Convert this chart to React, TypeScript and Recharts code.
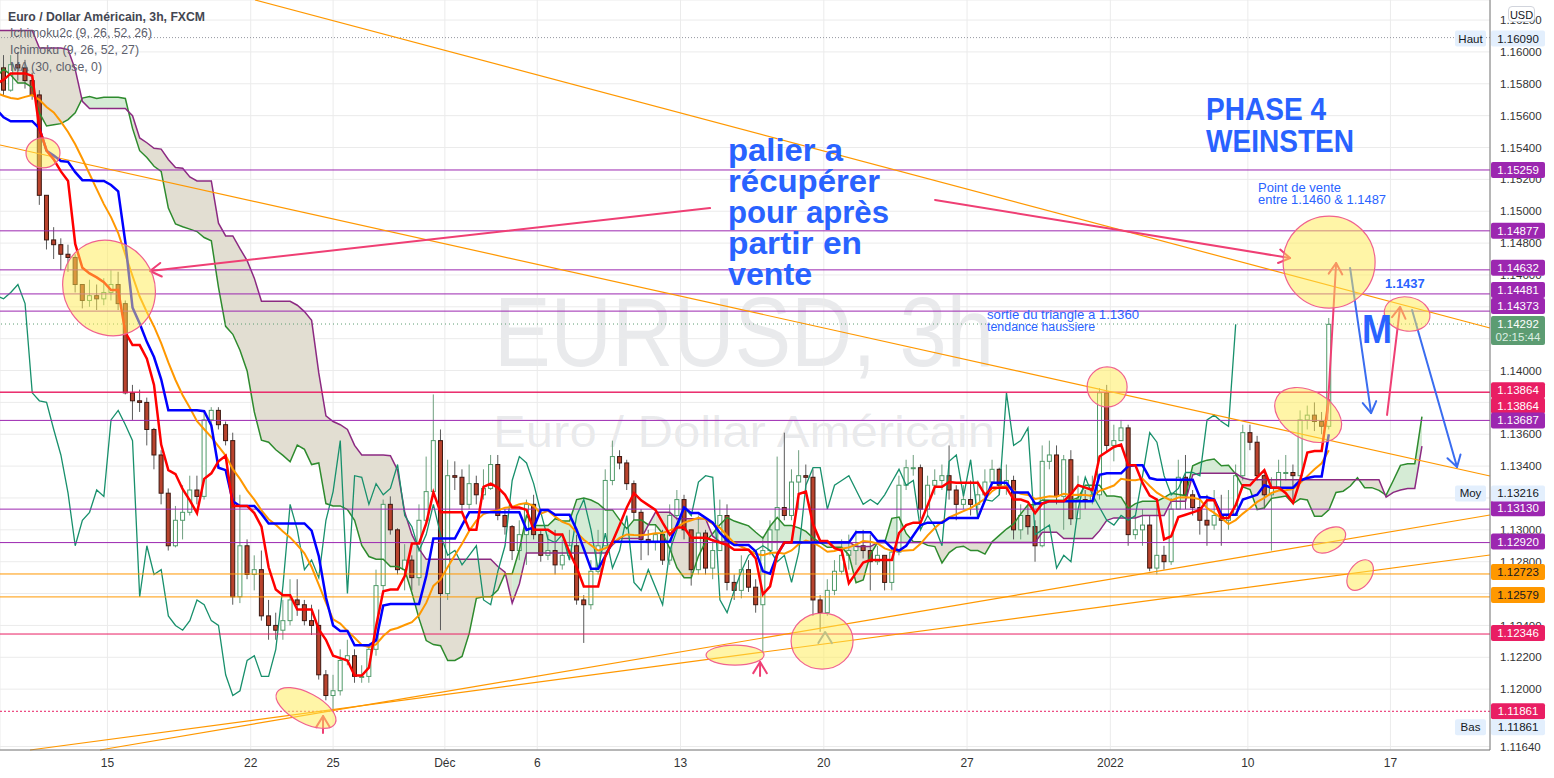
import React from 'react'
import {
  ComposedChart,
  XAxis,
  YAxis,
  CartesianGrid,
  Bar,
  Line,
  Area,
  ReferenceLine,
  ReferenceDot,
} from 'recharts'

// EUR/USD read at 6h per bar. Bar 1 = 9 Nov 06:00. The "early" bars sit left of the
// visible window and only feed the ichimoku / MA warm-up.
const earlyCloses = [
  1.16, 1.1602, 1.1598, 1.1605, 1.1603, 1.1612, 1.163, 1.168, 1.1685, 1.166,
  1.1622, 1.1572, 1.156, 1.1578, 1.1592, 1.1605, 1.1608, 1.1592, 1.1585, 1.158,
  1.1582, 1.1585, 1.158, 1.1602, 1.1612, 1.16, 1.1562, 1.1556, 1.1555, 1.155,
  1.153, 1.156, 1.1568, 1.157, 1.158, 1.159, 1.1588, 1.159,
]
const earlyHighs = [
  1.1618, 1.1612, 1.161, 1.1612, 1.161, 1.162, 1.1645, 1.1692, 1.1692, 1.169,
  1.1665, 1.1625, 1.1578, 1.1585, 1.16, 1.1614, 1.1614, 1.161, 1.1598, 1.1592,
  1.159, 1.1592, 1.159, 1.1616, 1.1616, 1.1615, 1.1605, 1.1572, 1.1565, 1.156,
  1.1555, 1.1568, 1.1575, 1.1578, 1.1588, 1.1598, 1.16, 1.16,
]
const earlyLows = [
  1.159, 1.1592, 1.159, 1.1595, 1.1596, 1.16, 1.1608, 1.1625, 1.1668, 1.1655,
  1.1615, 1.1565, 1.1535, 1.1555, 1.157, 1.1588, 1.1598, 1.1585, 1.1575, 1.1572,
  1.1575, 1.1578, 1.1572, 1.157, 1.1598, 1.1594, 1.1555, 1.1545, 1.1548, 1.154,
  1.1513, 1.152, 1.1555, 1.156, 1.1565, 1.1575, 1.158, 1.1582,
]

const closes = [
  1.1576, 1.1592, 1.159, 1.1582, 1.1573, 1.151, 1.1482, 1.1479, 1.1473, 1.1471,
  1.1454, 1.1444, 1.1447, 1.1445, 1.1449, 1.1454, 1.1442, 1.1386, 1.1381, 1.138,
  1.1363, 1.1347, 1.1323, 1.129, 1.1306, 1.1311, 1.1325, 1.1321, 1.1369, 1.1375,
  1.1366, 1.1356, 1.1258, 1.129, 1.1272, 1.1275, 1.1246, 1.124, 1.1237, 1.1243,
  1.1256, 1.1253, 1.1243, 1.124, 1.1209, 1.1196, 1.1199, 1.1218, 1.1221, 1.1208,
  1.1208, 1.1225, 1.1265, 1.1316, 1.13, 1.1275, 1.1281, 1.127, 1.1306, 1.1324,
  1.1356, 1.126, 1.1334, 1.1333, 1.1316, 1.1329, 1.1322, 1.1326, 1.1341, 1.1309,
  1.1302, 1.1287, 1.1297, 1.1316, 1.1297, 1.1284, 1.1287, 1.1278, 1.1284, 1.129,
  1.1256, 1.1253, 1.1274, 1.129, 1.1331, 1.1346, 1.1342, 1.1329, 1.1311, 1.1294,
  1.1292, 1.1297, 1.1281, 1.1309, 1.1319, 1.13, 1.1275, 1.1298, 1.1276, 1.1287,
  1.1309, 1.1267, 1.1262, 1.1275, 1.1264, 1.1253, 1.1287, 1.13, 1.1314, 1.1309,
  1.133, 1.1334, 1.1333, 1.1256, 1.1248, 1.1262, 1.1274, 1.1284, 1.1287, 1.129,
  1.1287, 1.128, 1.1284, 1.1267, 1.1286, 1.1328, 1.1339, 1.1339, 1.1313, 1.1328,
  1.1331, 1.1334, 1.1325, 1.1316, 1.1319, 1.1316, 1.1322, 1.133, 1.1338, 1.1328,
  1.1331, 1.13, 1.1309, 1.1302, 1.129, 1.1343, 1.1347, 1.1321, 1.1344, 1.1307,
  1.1319, 1.1318, 1.1322, 1.1386, 1.1353, 1.1356, 1.1364, 1.1297, 1.13, 1.1303,
  1.1276, 1.1284, 1.128, 1.1313, 1.1333, 1.1322, 1.1314, 1.1306, 1.1303, 1.1309,
  1.1306, 1.1309, 1.1334, 1.1361, 1.1355, 1.1334, 1.1322, 1.1326, 1.1336, 1.1336,
  1.1334, 1.1369, 1.1372, 1.1368, 1.1365, 1.1429,
]
const highs = [
  1.1598, 1.1598, 1.16, 1.1595, 1.1587, 1.1576, 1.1507, 1.149, 1.1483, 1.1479,
  1.1473, 1.1454, 1.1457, 1.1454, 1.1458, 1.1463, 1.1462, 1.1444, 1.1391, 1.1388,
  1.1383, 1.1364, 1.135, 1.1326, 1.1315, 1.1328, 1.1334, 1.1334, 1.1375, 1.1377,
  1.1377, 1.1368, 1.1361, 1.1322, 1.1294, 1.1284, 1.1287, 1.1256, 1.1248, 1.1256,
  1.1269, 1.1269, 1.1256, 1.1253, 1.125, 1.1212, 1.1209, 1.1225, 1.1231, 1.1225,
  1.1215, 1.1228, 1.1275, 1.1319, 1.1321, 1.1301, 1.1291, 1.1284, 1.1316, 1.1346,
  1.1385, 1.1363, 1.1344, 1.1343, 1.1338, 1.1341, 1.1334, 1.1338, 1.1347, 1.1347,
  1.1313, 1.1303, 1.1306, 1.1319, 1.1322, 1.13, 1.1297, 1.13, 1.1294, 1.13,
  1.1297, 1.1259, 1.1281, 1.13, 1.1338, 1.1356, 1.135, 1.1344, 1.1331, 1.1313,
  1.13, 1.1303, 1.13, 1.1316, 1.1325, 1.1322, 1.1297, 1.1309, 1.13, 1.1294,
  1.1319, 1.1316, 1.1272, 1.1284, 1.1281, 1.1269, 1.1296, 1.1306, 1.1346, 1.1361,
  1.1338, 1.135, 1.1341, 1.1338, 1.1259, 1.1269, 1.1281, 1.1294, 1.1297, 1.13,
  1.13, 1.1297, 1.129, 1.1284, 1.129, 1.1334, 1.1344, 1.1347, 1.1341, 1.1334,
  1.1338, 1.1341, 1.1353, 1.1328, 1.1328, 1.1331, 1.1331, 1.1338, 1.1344, 1.1339,
  1.1341, 1.1334, 1.1316, 1.1316, 1.1306, 1.1353, 1.1356, 1.1353, 1.1347, 1.135,
  1.1334, 1.1325, 1.1334, 1.1389, 1.1391, 1.1366, 1.1369, 1.1366, 1.1309, 1.1313,
  1.1309, 1.1316, 1.129, 1.132, 1.1344, 1.1347, 1.1325, 1.1322, 1.1322, 1.1325,
  1.1322, 1.1325, 1.1341, 1.1366, 1.1366, 1.1359, 1.1338, 1.1333, 1.1344, 1.1347,
  1.1341, 1.1375, 1.1378, 1.138, 1.1374, 1.1433,
]
const lows = [
  1.1573, 1.1575, 1.1582, 1.1577, 1.157, 1.1504, 1.1476, 1.147, 1.1463, 1.1462,
  1.1449, 1.1439, 1.144, 1.1438, 1.1441, 1.1444, 1.1438, 1.1385, 1.1369, 1.1374,
  1.1353, 1.1338, 1.1316, 1.1287, 1.1289, 1.1294, 1.1309, 1.1316, 1.1319, 1.1366,
  1.1363, 1.1353, 1.1253, 1.1254, 1.1269, 1.1262, 1.1243, 1.1231, 1.1231, 1.1231,
  1.124, 1.1246, 1.124, 1.1234, 1.1206, 1.1193, 1.1186, 1.1196, 1.1215, 1.1204,
  1.1204, 1.1204, 1.1221, 1.1262, 1.1297, 1.1272, 1.1262, 1.1262, 1.1265, 1.1303,
  1.1322, 1.1237, 1.1256, 1.1325, 1.1311, 1.1313, 1.1316, 1.1319, 1.1325, 1.1306,
  1.1297, 1.1281, 1.1281, 1.1278, 1.1294, 1.128, 1.1281, 1.1272, 1.1275, 1.1281,
  1.1253, 1.1229, 1.125, 1.1272, 1.129, 1.1328, 1.1338, 1.1325, 1.1306, 1.1281,
  1.1284, 1.1287, 1.1278, 1.1278, 1.1306, 1.1294, 1.1265, 1.1272, 1.1272, 1.1269,
  1.129, 1.1262, 1.1256, 1.1257, 1.1261, 1.1248, 1.1223, 1.1284, 1.1287, 1.1306,
  1.1306, 1.1313, 1.1325, 1.1246, 1.1236, 1.1246, 1.1259, 1.1272, 1.1275, 1.1278,
  1.1282, 1.1262, 1.1278, 1.1262, 1.1262, 1.1284, 1.1325, 1.1334, 1.1307, 1.1309,
  1.1322, 1.1325, 1.1319, 1.1306, 1.1313, 1.1309, 1.1309, 1.1319, 1.1328, 1.1322,
  1.1322, 1.1294, 1.1294, 1.1297, 1.128, 1.1289, 1.1338, 1.1316, 1.13, 1.1303,
  1.1309, 1.1313, 1.1316, 1.1319, 1.1349, 1.1343, 1.1356, 1.129, 1.1294, 1.129,
  1.1274, 1.1272, 1.1275, 1.1278, 1.1313, 1.1313, 1.1309, 1.1297, 1.129, 1.13,
  1.129, 1.13, 1.1309, 1.1331, 1.135, 1.1331, 1.1313, 1.1287, 1.1325, 1.1331,
  1.1319, 1.1331, 1.1363, 1.1362, 1.136, 1.1363,
]

const dayTicks = [15.5, 35.5, 47, 62.6, 75.5, 95.5, 115.5, 135.5, 155.5, 174.7, 194.6]
const dayLabels = ['15', '22', '25', 'Déc', '6', '13', '20', '27', '2022', '10', '17']

const priceTicks = [
  1.1164, 1.12, 1.122, 1.124, 1.126, 1.128, 1.13, 1.132, 1.134, 1.136, 1.138, 1.14,
  1.142, 1.144, 1.146, 1.148, 1.15, 1.152, 1.154, 1.156, 1.158, 1.16, 1.162,
]

// horizontal levels drawn by the author
const levelPrices = [
  1.15259, 1.14877, 1.14632, 1.14481, 1.14373, 1.13864, 1.13864, 1.13687, 1.1313,
  1.1292, 1.12723, 1.12579, 1.12346, 1.11861,
]
const levelKinds = ['p', 'p', 'p', 'p', 'p', 'r', 'r', 'p', 'p', 'p', 'o', 'o', 'r', 'r']

const sessionHigh = 1.1609
const sessionMid = 1.13216
const sessionLow = 1.11861
const lastPrice = 1.14292
const countdown = '02:15:44'

const Y_MIN = 1.11618
const Y_MAX = 1.16326
const PLOT_H = 750
const X_DOMAIN: [number, number] = [0.5, 208.5]

const TENKAN = 5
const KIJUN = 13
const SENKOU_B = 26
const SHIFT = 13
const MA_LEN = 15

const C = [...earlyCloses, ...closes]
const HI = [...earlyHighs, ...highs]
const LO = [...earlyLows, ...lows]
const FIRST = 1 - earlyCloses.length
const OP = C.map((c, k) => (k === 0 ? c : C[k - 1]))

function mid(k: number, len: number) {
  let hh = -Infinity
  let ll = Infinity
  for (let j = Math.max(0, k - len + 1); j <= k; j++) {
    hh = Math.max(hh, HI[j], OP[j], C[j])
    ll = Math.min(ll, LO[j], OP[j], C[j])
  }
  return (hh + ll) / 2
}

function sma(k: number, len: number) {
  let s = 0
  let n = 0
  for (let j = Math.max(0, k - len + 1); j <= k; j++) {
    s += C[j]
    n++
  }
  return s / n
}

// start one bar left of the window so every line enters from the edge
const rows: any[] = []
for (let b = 0; b <= closes.length + SHIFT; b++) {
  const k = b - FIRST
  const row: any = { i: b }
  if (k < C.length) {
    row.o = OP[k]
    row.c = C[k]
    row.h = Math.max(HI[k], OP[k], C[k])
    row.l = Math.min(LO[k], OP[k], C[k])
    if (b >= 1) row.hl = [row.l, row.h]
    row.tenkan = mid(k, TENKAN)
    row.kijun = mid(k, KIJUN)
    row.ma = sma(k, MA_LEN)
  }
  if (k + SHIFT < C.length) row.chikou = C[k + SHIFT]
  const s = k - SHIFT
  if (s >= 0 && s < C.length) {
    row.spanA = (mid(s, TENKAN) + mid(s, KIJUN)) / 2
    row.spanB = mid(s, SENKOU_B)
  }
  rows.push(row)
}
// cloud split by colour; each half is carried one bar on so they meet
const isUp = (r: any) => r && r.spanA != null && r.spanA >= r.spanB
const isDown = (r: any) => r && r.spanA != null && r.spanA < r.spanB
rows.forEach((r, n) => {
  const prev = rows[n - 1]
  if (r.spanA == null) return
  if (isUp(r) || isUp(prev)) r.bull = [r.spanA, r.spanB]
  if (isDown(r) || isDown(prev)) r.bear = [r.spanA, r.spanB]
})

const FONT = "'Liberation Sans', Arial, sans-serif"
const BLUE = '#2962ff'
const PINK = '#ef3f74'
const ARROW_BLUE = '#3a6df0'

const trendlines = [
  { x1: 36.1, y1: 1.16326, x2: 208.5, y2: 1.14267 },
  { x1: 0.5, y1: 1.15416, x2: 208.5, y2: 1.13338 },
  { x1: 14.46, y1: 1.11618, x2: 208.5, y2: 1.13093 },
  { x1: 4.69, y1: 1.11618, x2: 208.5, y2: 1.12842 },
]

const ellipses = [
  { x: 6.5, y: 1.15366, rx: 17, ry: 15, rot: 0 },
  { x: 15.72, y: 1.14518, rx: 45, ry: 49, rot: -35 },
  { x: 43.22, y: 1.11882, rx: 33, ry: 15, rot: 28 },
  { x: 103.11, y: 1.12214, rx: 29, ry: 10, rot: 0 },
  { x: 115.26, y: 1.12302, rx: 31, ry: 28, rot: 0 },
  { x: 155.05, y: 1.13897, rx: 20, ry: 20, rot: 0 },
  { x: 186.04, y: 1.14681, rx: 46, ry: 46, rot: 0 },
  { x: 183.11, y: 1.13721, rx: 36, ry: 24, rot: 30 },
  { x: 196.93, y: 1.14355, rx: 23, ry: 17, rot: 10 },
  { x: 186.04, y: 1.12936, rx: 18, ry: 11, rot: -30 },
  { x: 190.37, y: 1.12716, rx: 17, ry: 11, rot: -55 },
]

const arrows = [
  { x1: 99.62, y1: 1.1502, x2: 21.44, y2: 1.14625, color: PINK, stem: true },
  { x1: 131.03, y1: 1.15071, x2: 180.59, y2: 1.14706, color: PINK, stem: true },
  { x1: 185.76, y1: 1.1369, x2: 187.02, y2: 1.14675, color: PINK, stem: true },
  { x1: 188.97, y1: 1.14644, x2: 191.9, y2: 1.13733, color: ARROW_BLUE, stem: true },
  { x1: 194.13, y1: 1.13721, x2: 195.95, y2: 1.14399, color: PINK, stem: true },
  { x1: 197.62, y1: 1.1438, x2: 203.9, y2: 1.13394, color: ARROW_BLUE, stem: true },
  { x1: 45.59, y1: 1.11725, x2: 45.6, y2: 1.11831, color: PINK, stem: true },
  { x1: 106.6, y1: 1.12082, x2: 106.61, y2: 1.1217, color: PINK, stem: true },
  { x1: 115.68, y1: 1.12296, x2: 115.69, y2: 1.12359, color: '#7f93b8', stem: false },
]

const notes = [
  { x: 102.13, y: 1.15315, lines: ['palier a', 'récupérer', 'pour après', 'partir en', 'vente'], size: 32, lh: 31, bold: true, fit: [115, 152, 161, 134, 84] },
  { x: 168.86, y: 1.15573, lines: ['PHASE 4', 'WEINSTEN'], size: 31, lh: 32, bold: true, fit: [120, 148] },
  { x: 176.12, y: 1.15121, lines: ['Point de vente', 'entre 1.1460 & 1.1487'], size: 12, lh: 12.5, bold: false, fit: [83, 128] },
  { x: 193.85, y: 1.14518, lines: ['1.1437'], size: 13, lh: 13, bold: true },
  { x: 190.64, y: 1.14173, lines: ['M'], size: 40, lh: 40, bold: true, fit: [30] },
  { x: 138.29, y: 1.14324, lines: ['sortie du triangle a 1.1360', 'tendance haussiere'], size: 12, lh: 12, bold: false, fit: [152, 108] },
]

const KIND_STYLE: any = {
  p: { line: '#9c27b0', bg: '#9c27b0', fg: '#ffffff' },
  r: { line: '#e91e63', bg: '#e91e63', fg: '#ffffff' },
  o: { line: '#ff9800', bg: '#ff9800', fg: '#131722' },
}
const INFO = { bg: '#e3effd', fg: '#131722' }
// tag nudges so stacked tags do not overlap (px)
const TAG_NUDGE = [0, 0, -2, -4, -5, -2, 13.5, 0, -1, -1, -2, -2, -1, 0]

const tags: any[] = [
  ...levelPrices.map((p, n) => ({
    price: p,
    text: p.toFixed(5),
    bg: KIND_STYLE[levelKinds[n]].bg,
    fg: KIND_STYLE[levelKinds[n]].fg,
    dy: TAG_NUDGE[n],
  })),
  { price: sessionHigh, text: sessionHigh.toFixed(5), ...INFO, side: 'Haut', dy: 1 },
  { price: sessionMid, text: sessionMid.toFixed(5), ...INFO, side: 'Moy', dy: -2 },
  { price: sessionLow, text: sessionLow.toFixed(5), ...INFO, side: 'Bas', dy: 16 },
  { price: lastPrice, text: lastPrice.toFixed(5), bg: '#5c9c72', fg: '#ffffff', sub: countdown, dy: 3 },
]

function TagBox({ tag, x, cy }: any) {
  const h = tag.sub ? 29 : 16
  const top = tag.sub ? cy - 11 : cy - 8
  return (
    <g fontFamily={FONT}>
      {tag.side && (
        <g>
          <rect x={x - 36} y={top} width={31} height={h} rx={2} fill={tag.bg} />
          <text x={x - 20.5} y={top + 12} textAnchor="middle" fontSize={11.5} fill={tag.fg}>
            {tag.side}
          </text>
        </g>
      )}
      <rect x={x} y={top} width={54} height={h} rx={2} fill={tag.bg} />
      <text x={x + 27} y={top + 12} textAnchor="middle" fontSize={11.5} fill={tag.fg}>
        {tag.text}
      </text>
      {tag.sub && (
        <text x={x + 27} y={top + 25} textAnchor="middle" fontSize={11.5} fill="#dcefe2">
          {tag.sub}
        </text>
      )}
    </g>
  )
}

// axis tick, clipped to the bands that no price tag covers
function PriceTick(props: any) {
  const { x, y, payload, index } = props
  const v = payload.value as number
  const k = PLOT_H / (Y_MAX - Y_MIN)
  const lo = y - 7
  const hi = y + 7
  const covered: [number, number][] = []
  tags.forEach((t) => {
    const cy = y + (v - t.price) * k + t.dy
    const top = t.sub ? cy - 11 : cy - 8
    const bot = t.sub ? cy + 18 : cy + 8
    if (top < hi && bot > lo) covered.push([top, bot])
  })
  covered.sort((a, b) => a[0] - b[0])
  const free: [number, number][] = []
  let cur = lo
  covered.forEach(([a, b]) => {
    if (a > cur) free.push([cur, Math.min(a, hi)])
    cur = Math.max(cur, b)
  })
  if (cur < hi) free.push([cur, hi])
  const visible = free.filter(([a, b]) => b - a > 2.5)
  if (!visible.length) return <g />
  const id = `ptick-${index}`
  return (
    <g>
      {covered.length > 0 && (
        <defs>
          <clipPath id={id}>
            {visible.map(([a, b], n) => (
              <rect key={n} x={x - 2} y={a} width={60} height={b - a} />
            ))}
          </clipPath>
        </defs>
      )}
      <text
        x={x}
        y={y}
        dy="0.355em"
        textAnchor="start"
        fontSize={11.5}
        fill="#333"
        fontFamily={FONT}
        clipPath={covered.length > 0 ? `url(#${id})` : undefined}
      >
        {v.toFixed(5)}
      </text>
    </g>
  )
}

function Candle(props: any) {
  const { x, y, width, height, payload } = props
  if (!payload || payload.c == null || height == null || isNaN(height)) return <g />
  const { o, h, l, c } = payload
  const k = height / (h - l || 1e-9)
  const py = (p: number) => y + (h - p) * k
  const mx = x + width / 2
  const up = c >= o
  const top = py(Math.max(o, c))
  const bh = Math.max(py(Math.min(o, c)) - top, 1)
  return (
    <g>
      <line x1={mx} x2={mx} y1={y} y2={y + height} stroke={up ? '#6f9f7f' : '#5a5a5a'} strokeWidth={1} />
      <rect
        x={x + 0.5}
        y={top}
        width={width - 1}
        height={bh}
        fill={up ? '#ffffff' : '#b9432d'}
        stroke={up ? '#4f9b69' : '#3b1710'}
        strokeWidth={1}
      />
    </g>
  )
}

function arrowShape(color: string, stem: boolean) {
  return (p: any) => {
    const { x1, y1, x2, y2 } = p
    const a = Math.atan2(y2 - y1, x2 - x1)
    const L = 13
    const s = 0.55
    const h1 = `${x2 - L * Math.cos(a - s)},${y2 - L * Math.sin(a - s)}`
    const h2 = `${x2 - L * Math.cos(a + s)},${y2 - L * Math.sin(a + s)}`
    return (
      <g stroke={color} strokeWidth={2} fill="none" strokeLinecap="round" strokeLinejoin="round">
        {stem && <line x1={x1} y1={y1} x2={x2} y2={y2} />}
        <polyline points={`${h1} ${x2},${y2} ${h2}`} />
      </g>
    )
  }
}

function ellipseShape(rx: number, ry: number, rot: number) {
  return (p: any) => (
    <ellipse
      cx={p.cx}
      cy={p.cy}
      rx={rx}
      ry={ry}
      transform={`rotate(${rot} ${p.cx} ${p.cy})`}
      fill="rgba(255,236,80,0.5)"
      stroke="#f0628f"
      strokeWidth={1.2}
    />
  )
}

function noteShape(n: any) {
  return (p: any) => (
    <g fontFamily={FONT} fill={BLUE} fontWeight={n.bold ? 700 : 400} fontSize={n.size}>
      {n.lines.map((t: string, i: number) => (
        <text
          key={i}
          x={p.cx}
          y={p.cy + i * n.lh}
          textLength={n.fit ? n.fit[i] : undefined}
          lengthAdjust={n.fit ? 'spacingAndGlyphs' : undefined}
        >
          {t}
        </text>
      ))}
    </g>
  )
}

export default function App() {
  return (
    <div style={{ position: 'absolute', left: 0, top: 0, width: 1554, height: 778, background: '#ffffff', fontFamily: FONT }}>
      <svg width={1554} height={778} style={{ position: 'absolute', left: 0, top: 0 }}>
        <text x={494} y={366} fontSize={98} fill="rgba(120,123,134,0.16)" textLength={500} lengthAdjust="spacingAndGlyphs">
          EURUSD, 3h
        </text>
        <text x={493} y={447} fontSize={45} fill="rgba(120,123,134,0.16)" textLength={502} lengthAdjust="spacingAndGlyphs">
          Euro / Dollar Américain
        </text>
      </svg>

      <div style={{ position: 'absolute', left: 0, top: 0 }}>
        <ComposedChart width={1554} height={778} data={rows} margin={{ top: 0, right: 0, bottom: 0, left: 0 }}>
          <CartesianGrid stroke="#ebebeb" />
          <XAxis
            dataKey="i"
            type="number"
            domain={X_DOMAIN}
            allowDataOverflow
            ticks={dayTicks}
            interval={0}
            tickFormatter={(v: number) => dayLabels[dayTicks.indexOf(v)] ?? ''}
            height={28}
            tickLine={false}
            axisLine={{ stroke: '#787878' }}
            tick={{ fontSize: 12, fill: '#333' }}
          />
          <YAxis
            orientation="right"
            type="number"
            domain={[Y_MIN, Y_MAX]}
            allowDataOverflow
            ticks={priceTicks}
            interval={0}
            width={64}
            tickLine={false}
            tickSize={6}
            tickMargin={4}
            axisLine={{ stroke: '#787878' }}
            tick={PriceTick}
          />

          <Area dataKey="bear" fill="#e2ded2" fillOpacity={1} stroke="none" isAnimationActive={false} />
          <Area dataKey="bull" fill="#d5ebd5" fillOpacity={1} stroke="none" isAnimationActive={false} />
          <Line dataKey="spanA" stroke="#2e8b2e" strokeWidth={1.5} dot={false} isAnimationActive={false} />
          <Line dataKey="spanB" stroke="#8c2a82" strokeWidth={1.5} dot={false} isAnimationActive={false} />
          <Line dataKey="chikou" stroke="#18906c" strokeWidth={1.3} dot={false} isAnimationActive={false} />

          <ReferenceLine y={sessionHigh} stroke="#9598a1" strokeDasharray="1 2" />
          <ReferenceLine y={lastPrice} stroke="#5c9c72" strokeDasharray="1 3" />
          {levelPrices.map((p, n) => (
            <ReferenceLine
              key={`lv${n}`}
              y={p}
              stroke={KIND_STYLE[levelKinds[n]].line}
              strokeWidth={1}
              strokeDasharray={n === levelPrices.length - 1 ? '2 2' : undefined}
            />
          ))}
          {trendlines.map((t, n) => (
            <ReferenceLine
              key={`tl${n}`}
              segment={[{ x: t.x1, y: t.y1 }, { x: t.x2, y: t.y2 }]}
              stroke="#ff9800"
              strokeWidth={1.2}
              ifOverflow="visible"
            />
          ))}

          <Bar dataKey="hl" barSize={5} shape={Candle} isAnimationActive={false} />
          <Line dataKey="ma" stroke="#ff9800" strokeWidth={2} dot={false} isAnimationActive={false} />
          <Line dataKey="kijun" stroke="#0000ff" strokeWidth={2.5} dot={false} isAnimationActive={false} />
          <Line dataKey="tenkan" stroke="#ff0000" strokeWidth={2.5} dot={false} isAnimationActive={false} />

          {ellipses.map((e, n) => (
            <ReferenceDot key={`el${n}`} x={e.x} y={e.y} r={1} ifOverflow="visible" shape={ellipseShape(e.rx, e.ry, e.rot)} />
          ))}
          {arrows.map((a, n) => (
            <ReferenceLine
              key={`ar${n}`}
              segment={[{ x: a.x1, y: a.y1 }, { x: a.x2, y: a.y2 }]}
              ifOverflow="visible"
              shape={arrowShape(a.color, a.stem)}
            />
          ))}
          {notes.map((nt, n) => (
            <ReferenceDot key={`nt${n}`} x={nt.x} y={nt.y} r={1} ifOverflow="visible" shape={noteShape(nt)} />
          ))}

          {tags.map((t, n) => (
            <ReferenceLine
              key={`tag${n}`}
              y={t.price}
              stroke="none"
              label={(lp: any) =>
                lp.viewBox ? <TagBox tag={t} x={lp.viewBox.x + lp.viewBox.width + 1} cy={lp.viewBox.y + t.dy} /> : null
              }
            />
          ))}
        </ComposedChart>
      </div>

      <svg width={300} height={80} style={{ position: 'absolute', left: 0, top: 0, pointerEvents: 'none' }}>
        <text x={8} y={21} fontSize={13} fontWeight={700} fill="#434651" textLength={197} lengthAdjust="spacingAndGlyphs">
          Euro / Dollar Américain, 3h, FXCM
        </text>
        <text x={10} y={37} fontSize={13} fill="#5d606b" textLength={142} lengthAdjust="spacingAndGlyphs">
          Ichimoku2c (9, 26, 52, 26)
        </text>
        <text x={10} y={54} fontSize={13} fill="#5d606b" textLength={129} lengthAdjust="spacingAndGlyphs">
          Ichimoku (9, 26, 52, 27)
        </text>
        <text x={10} y={71} fontSize={13} fill="#5d606b" textLength={92} lengthAdjust="spacingAndGlyphs">
          MA (30, close, 0)
        </text>
      </svg>

      <div
        style={{
          position: 'absolute',
          left: 1508,
          top: 6,
          width: 27,
          height: 16,
          border: '1px solid #d1d4dc',
          borderRadius: 4,
          background: '#ffffff',
          fontSize: 11,
          lineHeight: '16px',
          textAlign: 'center',
          color: '#131722',
          boxSizing: 'border-box',
        }}
      >
        USD
      </div>
    </div>
  )
}
